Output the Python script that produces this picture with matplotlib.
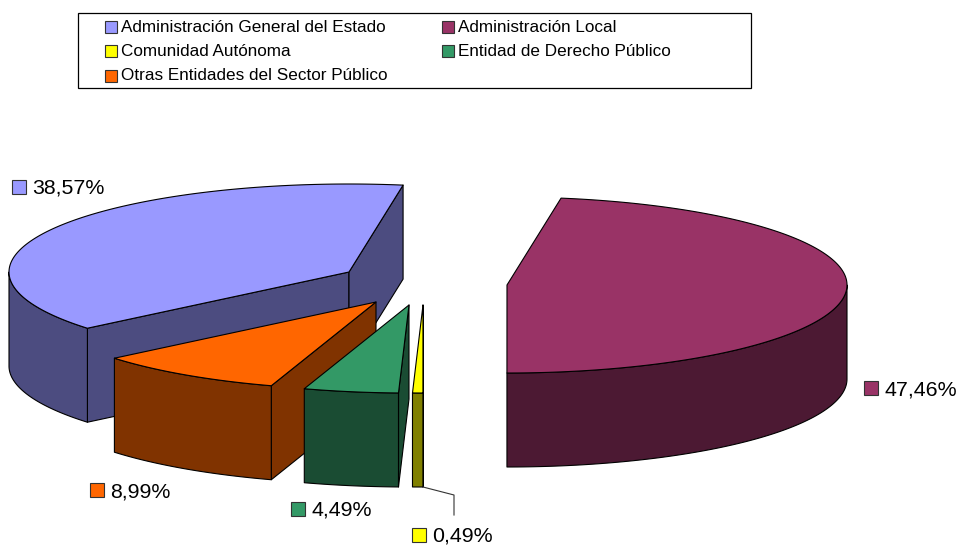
import matplotlib
matplotlib.use("Agg")
import matplotlib.pyplot as plt
from matplotlib.patches import Polygon, Rectangle
import numpy as np

plt.rcParams['font.family'] = ['Liberation Sans', 'DejaVu Sans']

categorias = ["Administración General del Estado", "Administración Local",
              "Comunidad Autónoma", "Entidad de Derecho Público",
              "Otras Entidades del Sector Público"]
valores = [38.57, 47.46, 0.49, 4.49, 8.99]
etiquetas = ["38,57%", "47,46%", "0,49%", "4,49%", "8,99%"]

colores = ["#9999FF", "#993366", "#FFFF00", "#339966", "#FF6600"]
laterales = ["#4C4C80", "#4C1933", "#808000", "#1A4C33", "#803300"]

# layout del pie (en pixeles de la figura)
angulo_inicio = 230.3
rx, ry, alto = 340, 88, 94
vertices = [(349, 272), (507, 285), (423, 305), (409, 305), (376, 302)]
pos_etiqueta = [(12, 180), (864, 381), (412, 528), (291, 502), (90, 483)]
orden = [0, 1, 4, 3, 2]


def borde(v, ang):
    t = np.radians(ang)
    return v[0] + rx * np.sin(t), v[1] - ry * np.cos(t)


def cara(ax, pts, color):
    ax.add_patch(Polygon(pts, closed=True, facecolor=color, edgecolor="black",
                         linewidth=0.8, joinstyle="round"))


def corte(ax, v, ang, color):
    p = borde(v, ang)
    cara(ax, [v, p, (p[0], p[1] + alto), (v[0], v[1] + alto)], color)


fig = plt.figure(figsize=(9.59, 5.45), dpi=100)
ax = fig.add_axes([0, 0, 1, 1])
ax.set_xlim(0, 959)
ax.set_ylim(545, 0)
ax.axis("off")

# angulos de cada porcion, en sentido horario desde arriba
fracciones = np.array(valores) / sum(valores) * 360
inicios = angulo_inicio + np.concatenate(([0], np.cumsum(fracciones)[:-1]))
inicios = inicios % 360

for i in orden:
    v = vertices[i]
    a0 = inicios[i]
    a1 = a0 + fracciones[i]

    # caras de corte que se ven desde delante
    if np.sin(np.radians(a0)) < 0:
        corte(ax, v, a0, laterales[i])
    if np.sin(np.radians(a1)) > 0:
        corte(ax, v, a1, laterales[i])

    # pared exterior, solo la parte delantera
    f0, f1 = max(a0, 90), min(a1, 270)
    if f1 > f0:
        angs = np.linspace(f0, f1, 100)
        arriba = [borde(v, a) for a in angs]
        abajo = [(x, y + alto) for x, y in arriba]
        cara(ax, arriba + abajo[::-1], laterales[i])

    # tapa
    angs = np.linspace(a0, a1, 200)
    cara(ax, [v] + [borde(v, a) for a in angs], colores[i])

# linea guia de 0,49%
ax.plot([423, 454, 454], [487, 495, 515], color="#333333", linewidth=0.8)

# etiquetas de datos
for i in range(len(valores)):
    x, y = pos_etiqueta[i]
    ax.add_patch(Rectangle((x, y), 14, 14, facecolor=colores[i],
                           edgecolor="#333333", linewidth=0.8))
    ax.text(x + 20.5, y + 8.5, etiquetas[i], fontsize=15.4, va="center",
            ha="left", color="black")

# leyenda
ax.add_patch(Rectangle((78, 13), 673, 75, facecolor="white",
                       edgecolor="black", linewidth=0.9))
leyenda_x = [105, 442, 105, 442, 105]
leyenda_y = [27, 27, 51, 51, 76]
for i in range(len(categorias)):
    ax.add_patch(Rectangle((leyenda_x[i], leyenda_y[i] - 6), 12, 12,
                           facecolor=colores[i], edgecolor="#333333",
                           linewidth=0.8))
    ax.text(leyenda_x[i] + 16, leyenda_y[i], categorias[i], fontsize=12.3,
            va="center", ha="left", color="black")

fig.savefig("out.png", dpi=100)
